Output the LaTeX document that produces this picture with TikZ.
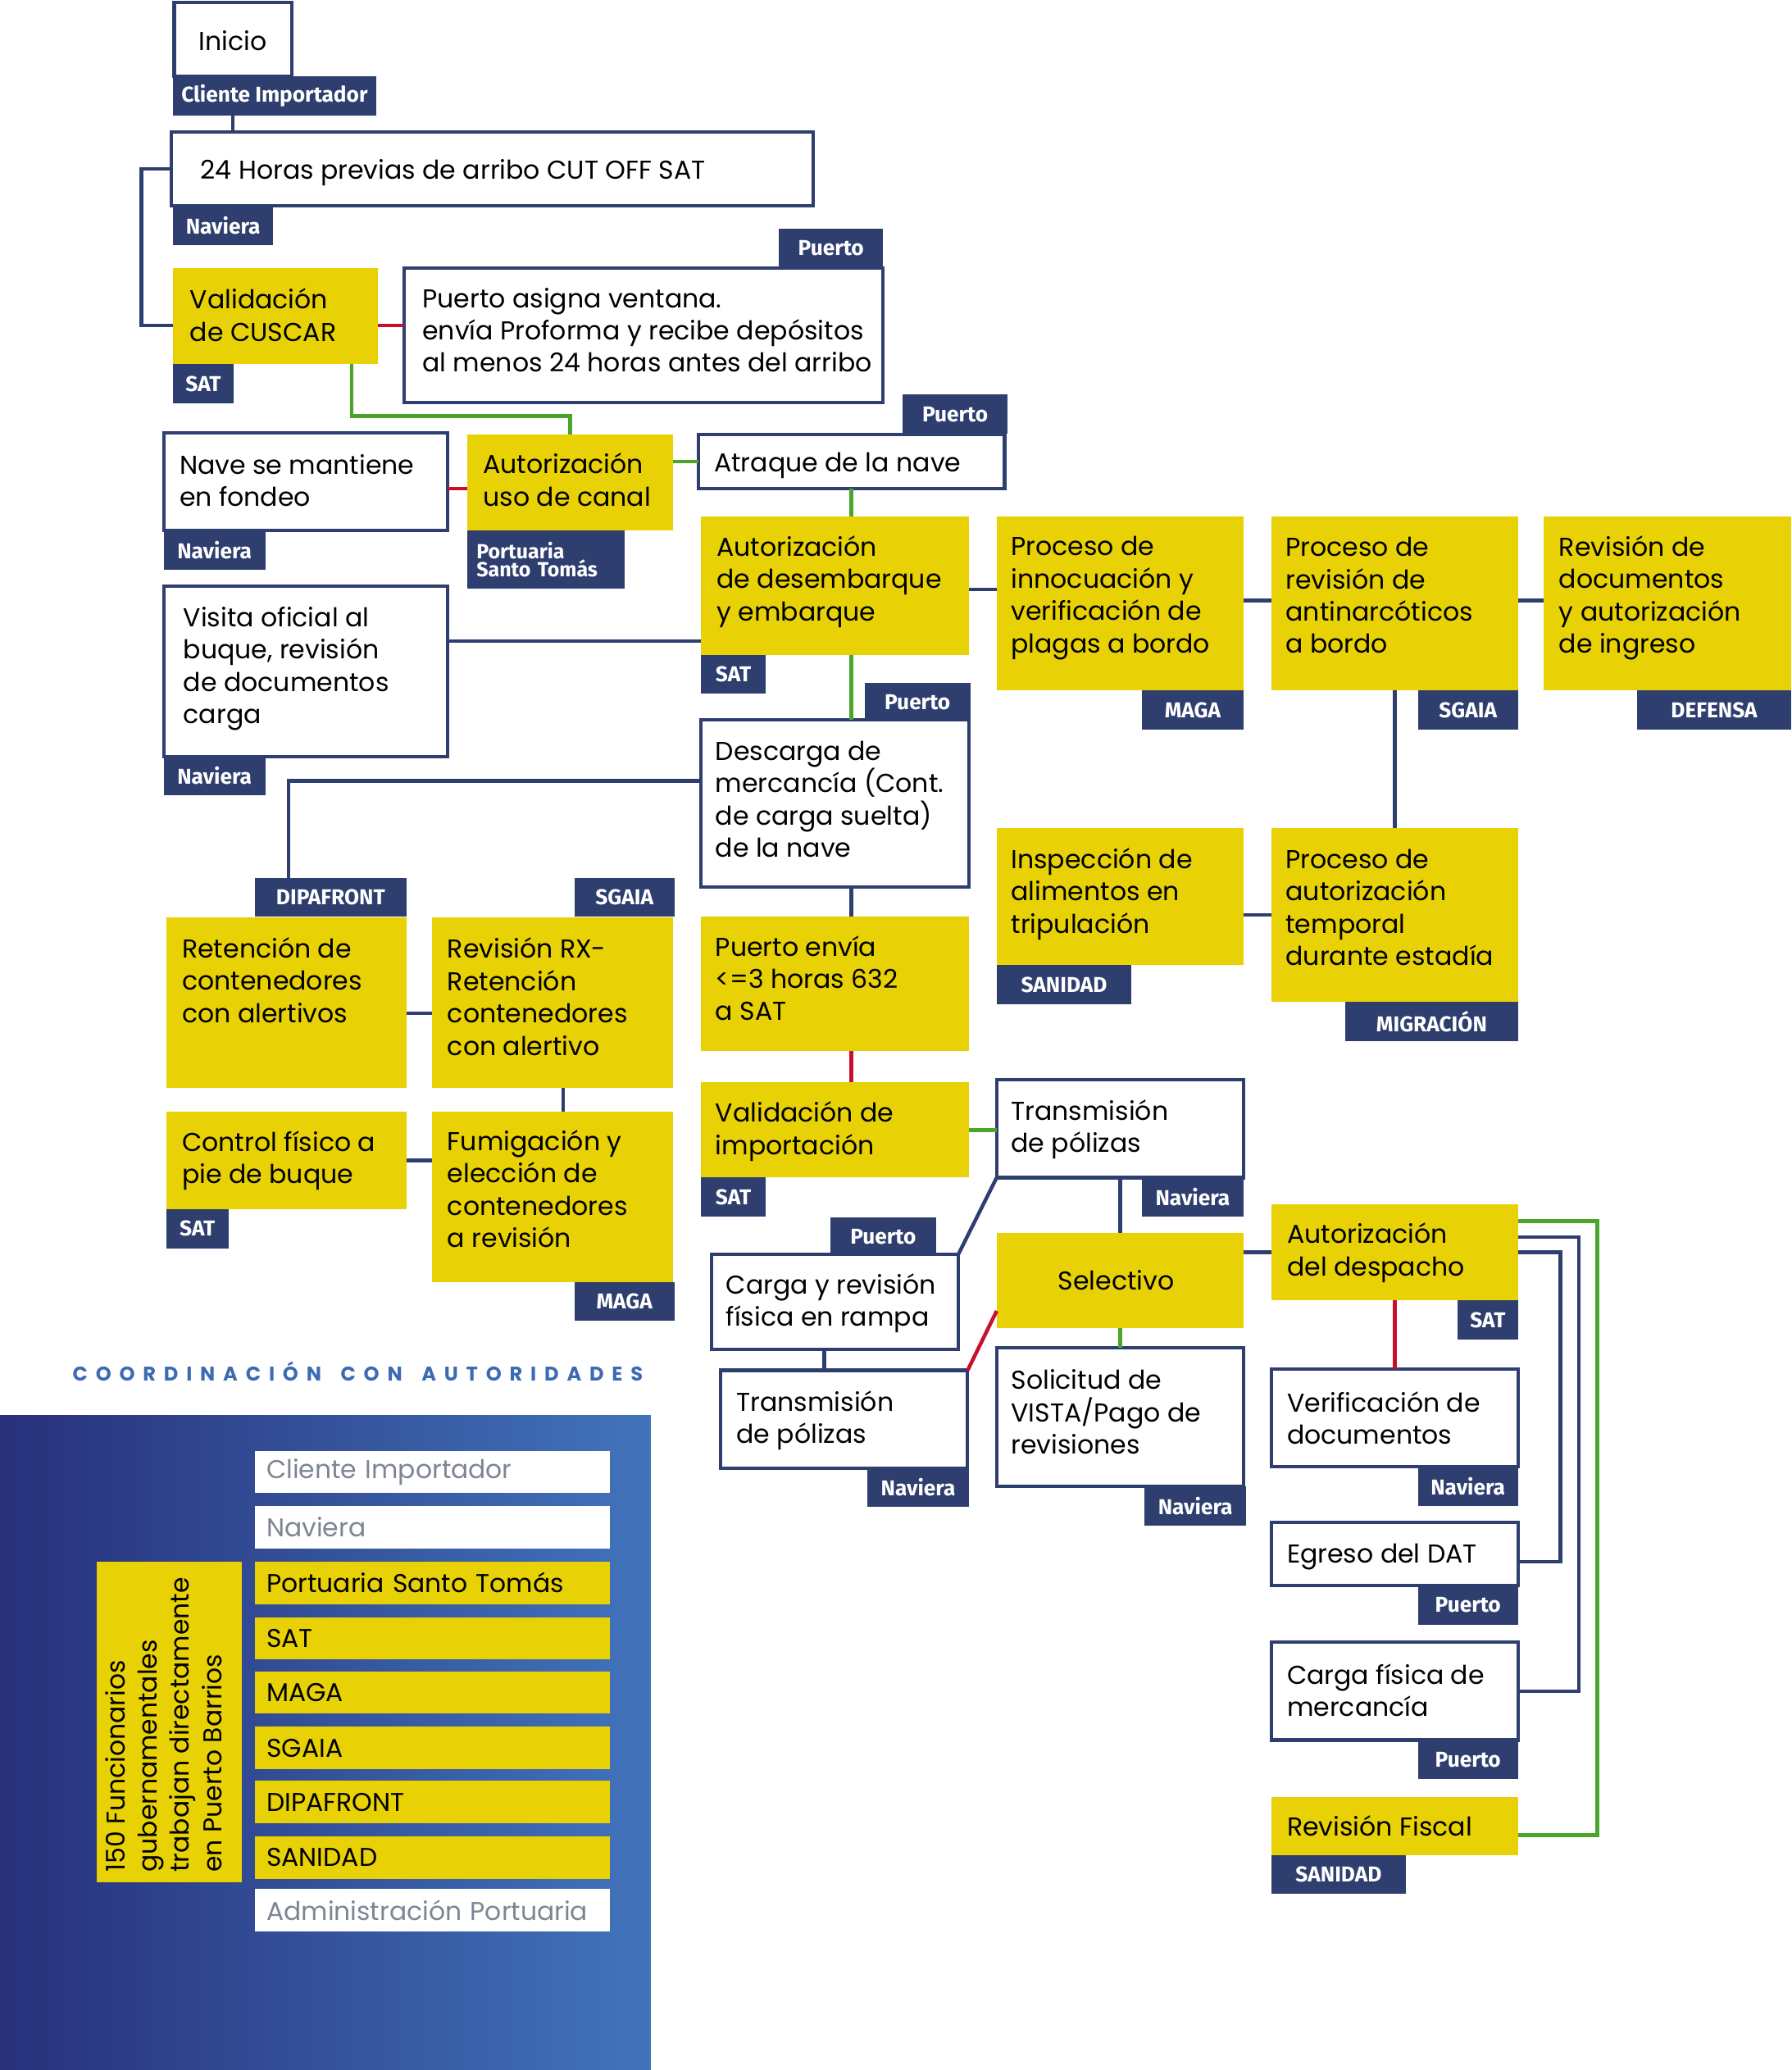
\documentclass[tikz,border=0pt]{standalone}
\usepackage{fontspec}
\setmainfont{Poppins}
\newfontfamily\labfont{Fira Sans}
\usetikzlibrary{calc}
\definecolor{navy}{HTML}{2E3E6F}
\definecolor{yel}{HTML}{E8D104}
\definecolor{myred}{HTML}{C8102E}
\definecolor{mygreen}{HTML}{4BA52B}
\definecolor{tblue}{HTML}{3C6BB3}
\definecolor{lgray}{HTML}{7D8593}
\definecolor{gleft}{HTML}{28307A}
\definecolor{gright}{HTML}{4174BC}
\newcommand\mfont{\fontsize{19.6}{24.5}\selectfont}
\newcommand\lfont{\labfont\bfseries\fontsize{16.3}{18}\selectfont}
\newcommand\gfont{\fontsize{19.5}{24.3}\selectfont}
\newcommand\tfont{\bfseries\fontsize{15}{18}\selectfont}
% style, name, x, y, w, h, pad, yshift, text
\newcommand\pbox[9]{%
  \node[#1, minimum width=#5pt, minimum height=#6pt] (#2) at (#3,#4) {};
  \node[txt, yshift=#8pt] (#2t) at ([xshift=#7pt]#2.west) {#9};}
\newcommand\lb[5]{\node[lab, minimum width=#4pt] (#1) at (#2,#3) {#5};}
\def\Lg{\hfill}
\def\Wg{\hskip 0pt plus 2.4fill\relax}
\begin{document}
\begin{tikzpicture}[x=1pt,y=-1pt,
  every node/.style={inner sep=0pt, outer sep=0pt},
  wb/.style={draw=navy, line width=2.6pt, fill=white, anchor=north west},
  yb/.style={fill=yel, anchor=north west},
  txt/.style={anchor=west, align=left, font=\mfont},
  lab/.style={fill=navy, text=white, anchor=north west, minimum height=29.5pt, font=\lfont},
  cn/.style={line width=2.8pt, draw=navy},
  cr/.style={line width=2.8pt, draw=myred},
  cg/.style={line width=2.8pt, draw=mygreen},
  leg/.style={anchor=north west, minimum height=32pt, text width=251pt, inner xsep=9pt, align=left, font=\gfont}]
\useasboundingbox (0,0) rectangle (1357,1568);

% ---------- boxes ----------
\node[wb, minimum width=89pt, minimum height=56pt] (inicio) at (132,2) {};
\node[font=\mfont] (iniciot) at ([yshift=-1pt]inicio.center) {Inicio};
\lb{cli}{131}{58}{154}{Cliente Importador}

\pbox{wb}{horas}{130}{100}{486}{56}{22}{-3}{24 Horas previas de arribo CUT OFF SAT}
\lb{nav1}{131}{156}{76}{Naviera}

\pbox{yb}{cuscar}{131}{203}{155}{73}{13}{1}{Validación\\de CUSCAR}
\lb{sat1}{131}{276}{46}{SAT}

\pbox{wb}{asigna}{306}{203}{363}{102}{14}{4}{Puerto asigna ventana.\\envía Proforma y recibe depósitos\\al menos 24 horas antes del arribo}
\lb{pu1}{590}{173}{79}{Puerto}

\pbox{wb}{fondeo}{124}{328}{215}{74}{12}{1}{Nave se mantiene\\en fondeo}
\lb{nav2}{124}{402}{77}{Naviera}

\pbox{yb}{canal}{354}{329}{156}{73}{12}{2}{Autorización\\uso de canal}
\node[lab, minimum width=119pt, minimum height=44pt, text width=105pt, align=left,
      font=\labfont\bfseries\fontsize{15.5}{14}\selectfont] (pst) at (354,402) {Portuaria\\Santo Tomás};

\pbox{wb}{atraque}{529}{329}{232}{41}{12}{-3}{Atraque de la nave}
\lb{pu2}{684}{299}{79}{Puerto}

\pbox{yb}{desemb}{531}{391}{203}{105}{12}{3}{Autorización\\de desembarque\\y embarque}
\lb{sat2}{531}{496}{49}{SAT}

\pbox{wb}{visita}{124}{444}{215}{129}{15}{2}{Visita oficial al\\buque, revisión\\de documentos\\carga}
\lb{nav3}{124}{573}{77}{Naviera}

\pbox{yb}{innoc}{755}{391}{187}{132}{11}{4}{Proceso de\\innocuación y\\verificación de\\plagas a bordo}
\lb{maga1}{865}{523}{77}{MAGA}

\pbox{yb}{antin}{963}{391}{187}{132}{11}{6}{Proceso de\\revisión de\\antinarcóticos\\a bordo}
\lb{sgaia1}{1074}{523}{76}{SGAIA}

\pbox{yb}{revdoc}{1169}{391}{188}{132}{12}{4}{Revisión de\\documentos\\y autorización\\de ingreso}
\lb{def}{1240}{523}{117}{DEFENSA}

\pbox{wb}{descarga}{531}{545}{203}{127}{11}{3}{Descarga de\\mercancía (Cont.\\de carga suelta)\\de la nave}
\lb{pu3}{655}{517}{80}{Puerto}

\pbox{yb}{reten}{126}{695}{182}{129}{12}{17}{Retención de\\contenedores\\con alertivos}
\lb{dip}{193}{665}{115}{DIPAFRONT}

\pbox{yb}{rx}{327}{695}{183}{129}{12}{4.5}{Revisión RX-\\Retención\\contenedores\\con alertivo}
\lb{sgaia2}{435}{665}{76}{SGAIA}

\pbox{yb}{control}{126}{842}{182}{74}{12}{0}{Control físico a\\pie de buque}
\lb{sat3}{126}{916}{47}{SAT}

\pbox{yb}{fumig}{327}{842}{183}{129}{12}{6}{Fumigación y\\elección de\\contenedores\\a revisión}
\lb{maga2}{435}{971}{76}{MAGA}

\pbox{yb}{envia}{531}{694}{203}{102}{11}{4}{Puerto envía\\<=3 horas 632\\a SAT}

\pbox{yb}{valimp}{531}{820}{203}{72}{11}{-1}{Validación de\\importación}
\lb{sat4}{531}{892}{49}{SAT}

\pbox{wb}{trans1}{755}{818}{187}{74}{11}{-0.5}{Transmisión\\de pólizas}
\lb{nav4}{865}{892}{77}{Naviera}

\pbox{wb}{carga}{539}{950}{187}{72}{11}{-1}{Carga y revisión\\física en rampa}
\lb{pu4}{629}{922}{80}{Puerto}

\pbox{wb}{trans2}{546}{1038}{187}{74}{12}{-1}{Transmisión\\de pólizas}
\lb{nav5}{657}{1112}{77}{Naviera}

\node[yb, minimum width=187pt, minimum height=72pt] (selec) at (755,934) {};
\node[font=\mfont] (select) at ([xshift=-3pt]selec.center) {Selectivo};

\pbox{wb}{solic}{755}{1021}{187}{105}{11}{4}{Solicitud de\\VISTA/Pago de\\revisiones}
\lb{nav6}{867}{1126}{77}{Naviera}

\pbox{yb}{desp}{963}{912}{187}{73}{12}{-0.5}{Autorización\\del despacho}
\lb{sat5}{1104}{985}{46}{SAT}

\pbox{wb}{verif}{963}{1037}{187}{74}{12}{0}{Verificación de\\documentos}
\lb{nav7}{1074}{1111}{76}{Naviera}

\pbox{wb}{egreso}{963}{1153}{187}{48}{12}{-2}{Egreso del DAT}
\lb{pu5}{1074}{1201}{76}{Puerto}

\pbox{wb}{cfis}{963}{1244}{187}{74}{12}{0.5}{Carga física de\\mercancía}
\lb{pu6}{1074}{1318}{76}{Puerto}

\pbox{yb}{fiscal}{963}{1361}{187}{44}{12}{0}{Revisión Fiscal}
\lb{san2}{963}{1405}{102}{SANIDAD}

\pbox{yb}{temp}{963}{627}{187}{132}{11}{5.5}{Proceso de\\autorización\\temporal\\durante estadía}
\lb{mig}{1019}{759}{131}{MIGRACIÓN}

\pbox{yb}{alim}{755}{627}{187}{104}{11}{2}{Inspección de\\alimentos en\\tripulación}
\lb{san1}{755}{731}{102}{SANIDAD}

% ---------- connectors ----------
\draw[cn] (inicio.south |- cli.south) -- (inicio.south |- horas.north);
\coordinate (cA) at ([yshift=-7pt]cuscar.west);
\coordinate (cB) at ([yshift=-7pt]cuscar.east);
\draw[cn] (horas.west) -- ++(-23,0) |- (cA);
\draw[cr] (cB) -- (cB -| asigna.west);
\coordinate (cC) at ([xshift=58pt]cuscar.south);
\coordinate (cD) at ([yshift=14pt]canal.north);
\draw[cg] (cC) |- (cD) -- (canal.north);
\coordinate (cE) at ([yshift=-5pt]fondeo.east);
\draw[cr] (cE) -- (cE -| canal.west);
\draw[cg] (atraque.west -| canal.east) -- (atraque.west);
\draw[cg] (atraque.south) -- (atraque.south |- desemb.north);
\coordinate (cF) at ([yshift=23pt]visita.east);
\draw[cn] (cF) -- (cF -| desemb.west);
\coordinate (cG) at ([yshift=-3pt]desemb.east);
\draw[cn] (cG) -- (cG -| innoc.west);
\draw[cn] ([yshift=2pt]innoc.east) -- ([yshift=2pt]antin.west);
\draw[cn] ([yshift=2pt]antin.east) -- ([yshift=2pt]revdoc.west);
\draw[cn] (antin.south) -- (antin.south |- temp.north);
\draw[cg] (atraque.south |- desemb.south) -- (atraque.south |- descarga.north);
\coordinate (cH) at ([yshift=17pt]descarga.west);
\draw[cn] (cH) -| ([xshift=-32pt]dip.north);
\coordinate (cI) at ([yshift=-8pt]reten.east);
\draw[cn] (cI) -- (cI -| rx.west);
\draw[cn] ([xshift=8pt]rx.south) -- ([xshift=8pt]fumig.north);
\draw[cn] (control.east) -- (control.east -| fumig.west);
\draw[cn] (atraque.south |- descarga.south) -- (atraque.south |- envia.north);
\draw[cr] (atraque.south |- envia.south) -- (atraque.south |- valimp.north);
\draw[cg] (valimp.east) -- (valimp.east -| trans1.west);
\draw[cn] (trans1.south west) -- (carga.north east);
\coordinate (cJ) at ([xshift=-8pt]carga.south);
\draw[cn] (cJ) -- (cJ |- trans2.north);
\draw[cr] (trans2.north east) -- ([yshift=-23pt]selec.west);
\draw[cn] (trans1.south) -- (trans1.south |- selec.north);
\draw[cg] (selec.south) -- (selec.south |- solic.north);
\draw[cn] (desp.west -| selec.east) -- (desp.west);
\draw[cr] (desp.south) -- (desp.south |- verif.north);
\coordinate (cK) at ([yshift=-7pt]fiscal.east);
\coordinate (cL) at ([yshift=-6pt]egreso.east);
\draw[cg] ([yshift=23.5pt]desp.east) -- ++(60,0) |- (cK);
\draw[cn] ([yshift=11.5pt]desp.east) -- ++(46,0) |- (cfis.east);
\draw[cn] (desp.east) -- ++(32,0) |- (cL);
\draw[cn] (temp.west -| alim.east) -- (temp.west);

% ---------- legend ----------
\node[anchor=west, text=tblue, font=\tfont] (ttl) at (55,1039)
  {\makebox[432pt][s]{C\Lg O\Lg O\Lg R\Lg D\Lg I\Lg N\Lg A\Lg C\Lg I\Lg Ó\Lg N\Wg C\Lg O\Lg N\Wg A\Lg U\Lg T\Lg O\Lg R\Lg I\Lg D\Lg A\Lg D\Lg E\Lg S}};
\shade[left color=gleft, right color=gright] (0,1072) rectangle (493,1568);
\node[leg, fill=white, text=lgray] (lg1) at (193,1099) {Cliente Importador};
\node[leg, fill=white, text=lgray] (lg2) at (193,1141) {Naviera};
\node[leg, fill=yel] (lg3) at (193,1183) {Portuaria Santo Tomás};
\node[leg, fill=yel] (lg4) at (193,1225) {SAT};
\node[leg, fill=yel] (lg5) at (193,1266) {MAGA};
\node[leg, fill=yel] (lg6) at (193,1308) {SGAIA};
\node[leg, fill=yel] (lg7) at (193,1349) {DIPAFRONT};
\node[leg, fill=yel] (lg8) at (193,1391) {SANIDAD};
\node[leg, fill=white, text=lgray] (lg9) at (193,1431) {Administración Portuaria};
\node[yb, minimum width=110pt, minimum height=243pt] (fun) at (73,1183) {};
\node[anchor=north west, rotate=90, align=left, font=\gfont] (funt) at (80,1418)
  {150 Funcionarios\\gubernamentales\\trabajan directamente\\en Puerto Barrios};
\end{tikzpicture}
\end{document}
